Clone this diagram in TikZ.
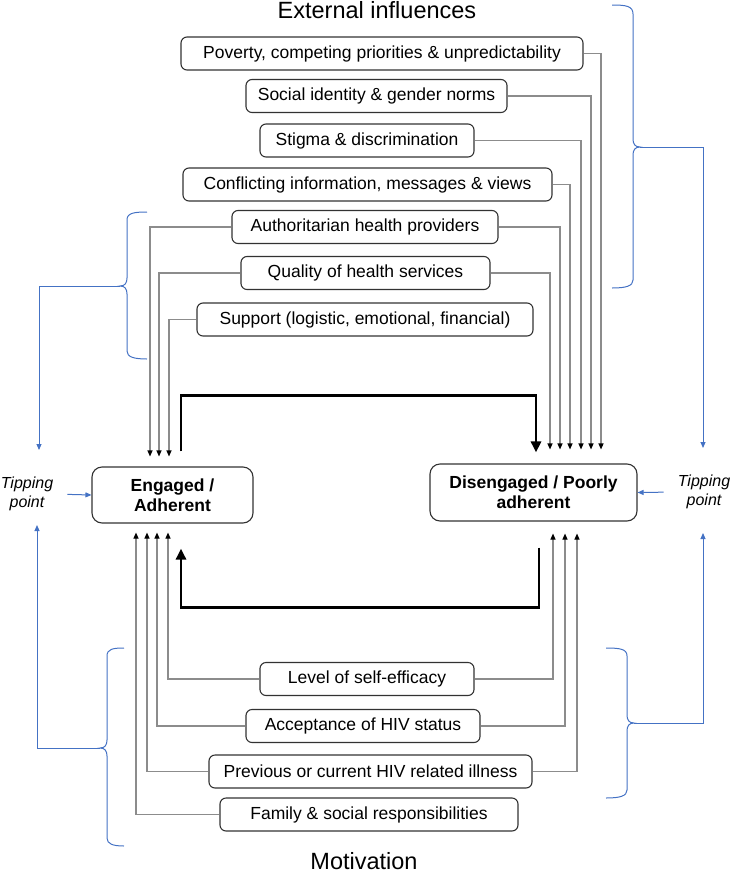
\documentclass[tikz,border=0pt]{standalone}
\usepackage{fontspec}
\setmainfont{Liberation Sans}
\usetikzlibrary{arrows.meta}
\definecolor{lineg}{RGB}{140,140,140}
\definecolor{boxd}{RGB}{50,50,50}
\definecolor{bl}{RGB}{68,114,196}
\begin{document}
\begin{tikzpicture}[x=1pt,y=-1pt,
  box/.style={draw=boxd, line width=1.1pt, rounded corners=6pt, minimum height=33pt, inner sep=0pt, font=\fontsize{17.5}{20}\selectfont},
  mainbox/.style={draw=boxd, line width=1.1pt, rounded corners=10pt, inner sep=0pt, align=center, font=\bfseries\fontsize{17.5}{20}\selectfont},
  conn/.style={draw=lineg, line width=1.1pt, -{Triangle[length=6pt,width=5pt,color=black]}},
  heavy/.style={draw=black, line width=2.6pt, -{Triangle[length=11pt,width=10pt]}},
  bluel/.style={draw=bl, line width=1pt},
  bluea/.style={draw=bl, line width=1pt, -{Triangle[length=6pt,width=5pt]}},
  tip/.style={inner sep=0pt, align=center, font=\itshape\fontsize{16}{19}\selectfont},
  ttl/.style={anchor=base, inner sep=0pt, font=\fontsize{23.5}{26}\selectfont}
]
\useasboundingbox (0,0) rectangle (732,873);

% titles
\node[ttl] (ext) at (377,18) {External influences};
\node[ttl] (mot) at (364,869) {Motivation};

% main states
\node[mainbox, minimum width=161pt, minimum height=56pt] (eng) at (172.5,495) {Engaged /\\Adherent};
\node[mainbox, minimum width=207pt, minimum height=57pt] (dis) at (533.5,492.5) {Disengaged / Poorly\\adherent};

% tipping points
\node[tip] (tipL) at (27,494) {Tipping\\point};
\node[tip] (tipR) at (704,492) {Tipping\\point};

% external influence boxes
\node[box, minimum width=402pt] (p1) at (382,53.5) {Poverty, competing priorities \& unpredictability};
\node[box, minimum width=261pt] (p2) at (376.5,96) {Social identity \& gender norms};
\node[box, minimum width=214pt] (p3) at (367,140.5) {Stigma \& discrimination};
\node[box, minimum width=369pt] (p4) at (367.5,184.5) {Conflicting information, messages \& views};
\node[box, minimum width=266pt] (p5) at (365,227) {Authoritarian health providers};
\node[box, minimum width=249pt] (p6) at (365.5,273) {Quality of health services};
\node[box, minimum width=336pt] (p7) at (365,319.5) {Support (logistic, emotional, financial)};

% motivation boxes
\node[box, minimum width=214pt] (m1) at (367,679) {Level of self-efficacy};
\node[box, minimum width=234pt] (m2) at (363,726) {Acceptance of HIV status};
\node[box, minimum width=323pt] (m3) at (370.5,771.5) {Previous or current HIV related illness};
\node[box, minimum width=298pt] (m4) at (369,814.5) {Family \& social responsibilities};

% connectors to Disengaged (top)
\draw[conn, shorten >=14pt] (p1.east) -| ([xshift=67.5pt]dis.north);
\draw[conn, shorten >=14pt] (p2.east) -| ([xshift=57.5pt]dis.north);
\draw[conn, shorten >=14pt] (p3.east) -| ([xshift=47.5pt]dis.north);
\draw[conn, shorten >=14pt] (p4.east) -| ([xshift=36.5pt]dis.north);
\draw[conn, shorten >=14pt] (p5.east) -| ([xshift=26.5pt]dis.north);
\draw[conn, shorten >=14pt] (p6.east) -| ([xshift=16.5pt]dis.north);

% connectors to Engaged (top)
\draw[conn, shorten >=10pt] (p5.west) -| ([xshift=-22.5pt]eng.north);
\draw[conn, shorten >=10pt] (p6.west) -| ([xshift=-13.5pt]eng.north);
\draw[conn, shorten >=10pt] (p7.west) -| ([xshift=-3.5pt]eng.north);

% connectors to Engaged (bottom)
\draw[conn, shorten >=9pt] (m1.west) -| ([xshift=-4.5pt]eng.south);
\draw[conn, shorten >=9pt] (m2.west) -| ([xshift=-15.5pt]eng.south);
\draw[conn, shorten >=9pt] (m3.west) -| ([xshift=-25.5pt]eng.south);
\draw[conn, shorten >=9pt] (m4.west) -| ([xshift=-36.5pt]eng.south);

% connectors to Disengaged (bottom)
\draw[conn, shorten >=12pt] (m1.east) -| ([xshift=19.5pt]dis.south);
\draw[conn, shorten >=12pt] (m2.east) -| ([xshift=31.5pt]dis.south);
\draw[conn, shorten >=12pt] (m3.east) -| ([xshift=43.5pt]dis.south);

% heavy transition arrows
\draw[heavy, shorten <=15pt, shorten >=11pt] ([xshift=8.5pt]eng.north) -- ++(0,-71) -| ([xshift=2.5pt]dis.north);
\draw[heavy, shorten <=26pt, shorten >=25pt] ([xshift=5.5pt]dis.south) -- ++(0,86) -| ([xshift=8.5pt]eng.south);

% braces
\draw[bluel] (612,5) .. controls (626,5) and (633,6) .. (633,14) -- (633,139) .. controls (633,144) and (635,147) .. (640,147) .. controls (635,147) and (633,150) .. (633,155) -- (633,280) .. controls (633,286) and (626,288) .. (612,288);
\draw[bluel] (147,212) .. controls (134,212) and (127,213) .. (127,220) -- (127,278) .. controls (127,283) and (125,286) .. (120,286) .. controls (125,286) and (127,289) .. (127,294) -- (127,351) .. controls (127,357) and (134,359) .. (147,359);
\draw[bluel] (124,648) .. controls (113,648) and (107,649) .. (107,656) -- (107,740) .. controls (107,745) and (105,748) .. (100,748) .. controls (105,748) and (107,751) .. (107,756) -- (107,838) .. controls (107,844) and (113,846) .. (124,846);
\draw[bluel] (606,648) .. controls (620,648) and (627,649) .. (627,656) -- (627,715) .. controls (627,720) and (629,723) .. (634,723) .. controls (629,723) and (627,726) .. (627,731) -- (627,790) .. controls (627,796) and (620,798) .. (606,798);

\coordinate (trtip) at (640,147);
\coordinate (tltip) at (120,286);
\coordinate (bltip) at (100,748);
\coordinate (brtip) at (634,723);
\coordinate (tpR1) at (703,448);
\coordinate (tpR2) at (703,533);
\coordinate (tpL1) at (39,450);
\coordinate (tpL2) at (37,525);

% blue connectors
\draw[bluea] (trtip) -| (tpR1);
\draw[bluea] (brtip) -| (tpR2);
\draw[bluea] (tltip) -| (tpL1);
\draw[bluea] (bltip) -| (tpL2);
\draw[bluea, shorten <=14pt] (tipR.west) -- (dis.east);
\draw[bluea, shorten <=14pt] (tipL.east) -- (eng.west);
\end{tikzpicture}
\end{document}
